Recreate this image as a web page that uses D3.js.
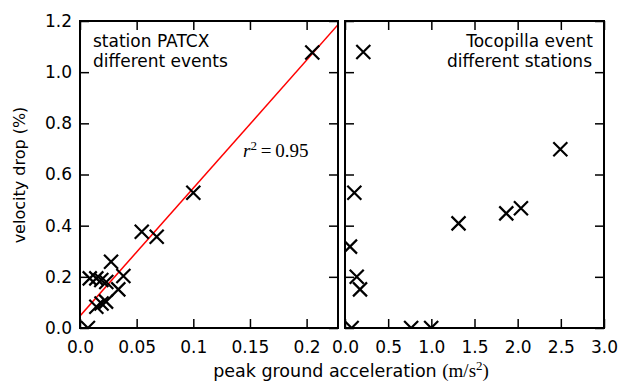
<!DOCTYPE html>
<html>
<head>
<meta charset="utf-8">
<script src="https://cdn.jsdelivr.net/npm/d3@7"></script>
<style>
  body { margin: 0; background: #fff; }
  text { font-family: "DejaVu Sans", sans-serif; }
</style>
</head>
<body>
<script>
// station PATCX, different events
const stationPga  = [0.007, 0.0086, 0.0144, 0.0188, 0.0232, 0.0144, 0.019, 0.023, 0.0274, 0.0338, 0.0383, 0.0545, 0.0677, 0.100, 0.205];
const stationDrop = [0.0,   0.194,  0.194,  0.1875, 0.18,   0.083,  0.096, 0.103, 0.259,  0.151,  0.203,  0.376,  0.357,  0.529, 1.077];

// Tocopilla event, different stations
const eventPga  = [0.077, 0.058, 0.174, 0.136, 0.108, 0.212, 0.766, 0.998, 1.315, 1.868, 2.038, 2.494];
const eventDrop = [0.0,   0.318, 0.151, 0.2,   0.529, 1.079, 0.0,   0.0,   0.409, 0.448, 0.468, 0.699];

// linear fit for the left panel
const fitSlope = 5.0;
const fitIntercept = 0.047;

const yTicks = [0, 0.2, 0.4, 0.6, 0.8, 1.0, 1.2];
const yTickLabels = ["0.0", "0.2", "0.4", "0.6", "0.8", "1.0", "1.2"];
const xTicksLeft = [0, 0.05, 0.1, 0.15, 0.2];
const xTickLabelsLeft = ["0.0", "0.05", "0.1", "0.15", "0.2"];
const xTicksRight = [0, 0.5, 1.0, 1.5, 2.0, 2.5, 3.0];
const xTickLabelsRight = ["0.0", "0.5", "1.0", "1.5", "2.0", "2.5", "3.0"];

const W = 620, H = 383;
const yTop = 21, yBottom = 328;
const tick = 9;

const svg = d3.select("body").append("svg")
    .attr("width", W)
    .attr("height", H);

const yScale = d3.scaleLinear().domain([0, 1.2]).range([yBottom, yTop]);

function panel(id, x0, x1, xMax, ticks, labels, showY) {
    const xScale = d3.scaleLinear().domain([0, xMax]).range([x0, x1]);

    svg.append("clipPath").attr("id", id)
        .append("rect")
        .attr("x", x0).attr("y", yTop)
        .attr("width", x1 - x0).attr("height", yBottom - yTop);

    // bottom axis with labels
    const gb = svg.append("g")
        .attr("transform", "translate(0," + yBottom + ")")
        .call(d3.axisBottom(xScale).tickValues(ticks)
            .tickFormat((d, i) => labels[i])
            .tickSizeInner(-tick).tickSizeOuter(0).tickPadding(13));
    // top axis, ticks only
    const gt = svg.append("g")
        .attr("transform", "translate(0," + yTop + ")")
        .call(d3.axisTop(xScale).tickValues(ticks).tickFormat("")
            .tickSizeInner(-tick).tickSizeOuter(0));
    // left axis
    const gl = svg.append("g")
        .attr("transform", "translate(" + x0 + ",0)")
        .call(d3.axisLeft(yScale).tickValues(yTicks)
            .tickFormat((d, i) => showY ? yTickLabels[i] : "")
            .tickSizeInner(-tick).tickSizeOuter(0).tickPadding(8));
    // right axis
    const gr = svg.append("g")
        .attr("transform", "translate(" + x1 + ",0)")
        .call(d3.axisRight(yScale).tickValues(yTicks).tickFormat("")
            .tickSizeInner(-tick).tickSizeOuter(0));

    [gb, gt, gl, gr].forEach(g => {
        g.select(".domain").remove();
        g.selectAll("line").attr("stroke", "#000").attr("stroke-width", 1.5);
        g.selectAll("text")
            .attr("fill", "#000")
            .style("font-size", "17px")
            .style("font-family", "'DejaVu Sans', sans-serif");
    });

    return xScale;
}

const xLeft = panel("clipL", 80, 338, 0.2277, xTicksLeft, xTickLabelsLeft, true);
const xRight = panel("clipR", 345, 604, 3.0, xTicksRight, xTickLabelsRight, false);

// fit line
const fitX = [0, 0.2277];
svg.append("line")
    .attr("clip-path", "url(#clipL)")
    .attr("x1", xLeft(fitX[0]))
    .attr("y1", yScale(fitIntercept + fitSlope * fitX[0]))
    .attr("x2", xLeft(fitX[1]))
    .attr("y2", yScale(fitIntercept + fitSlope * fitX[1]))
    .attr("stroke", "#ff0000")
    .attr("stroke-width", 1.5);

const cross = "M-7,-7L7,7M-7,7L7,-7";

function drawPoints(clip, xScale, xs, ys) {
    svg.append("g").attr("clip-path", "url(#" + clip + ")")
        .selectAll("path")
        .data(xs.map((x, i) => ({ x: x, y: ys[i] })))
        .enter().append("path")
        .attr("d", cross)
        .attr("transform", d => "translate(" + xScale(d.x) + "," + yScale(d.y) + ")")
        .attr("fill", "none")
        .attr("stroke", "#000")
        .attr("stroke-width", 2.2);
}

drawPoints("clipL", xLeft, stationPga, stationDrop);
drawPoints("clipR", xRight, eventPga, eventDrop);

// frames
[[80, 338], [345, 604]].forEach(p => {
    svg.append("rect")
        .attr("x", p[0]).attr("y", yTop)
        .attr("width", p[1] - p[0]).attr("height", yBottom - yTop)
        .attr("fill", "none")
        .attr("stroke", "#000")
        .attr("stroke-width", 2);
});

// panel annotations
const ann = svg.append("g").style("font-size", "17px").attr("fill", "#000");
ann.append("text").attr("x", 93).attr("y", 47).text("station PATCX");
ann.append("text").attr("x", 93).attr("y", 67).text("different events");
ann.append("text").attr("x", 593).attr("y", 47).attr("text-anchor", "end").text("Tocopilla event");
ann.append("text").attr("x", 592).attr("y", 67).attr("text-anchor", "end").text("different stations");

// r^2 label
const r2 = svg.append("text")
    .attr("x", 243).attr("y", 157)
    .style("font-family", "'Liberation Serif', serif")
    .style("font-size", "19px")
    .attr("fill", "#000");
r2.append("tspan").style("font-style", "italic").text("r");
r2.append("tspan").attr("dy", -7).style("font-size", "13px").text("2");
r2.append("tspan").attr("dy", 7).text("\u2009=\u20090.95");

// axis labels
svg.append("text")
    .attr("transform", "translate(25,175) rotate(-90)")
    .attr("text-anchor", "middle")
    .style("font-size", "16px")
    .attr("fill", "#000")
    .text("velocity drop (%)");

const xl = svg.append("text")
    .attr("x", 351).attr("y", 377)
    .attr("text-anchor", "middle")
    .style("font-size", "17.5px")
    .attr("fill", "#000");
xl.append("tspan").text("peak ground acceleration ");
xl.append("tspan").style("font-family", "'Liberation Serif', serif").style("font-size", "19px").text("(m/s");
xl.append("tspan").attr("dy", -7).style("font-family", "'Liberation Serif', serif").style("font-size", "13px").text("2");
xl.append("tspan").attr("dy", 7).style("font-family", "'Liberation Serif', serif").style("font-size", "19px").text(")");
</script>
</body>
</html>
